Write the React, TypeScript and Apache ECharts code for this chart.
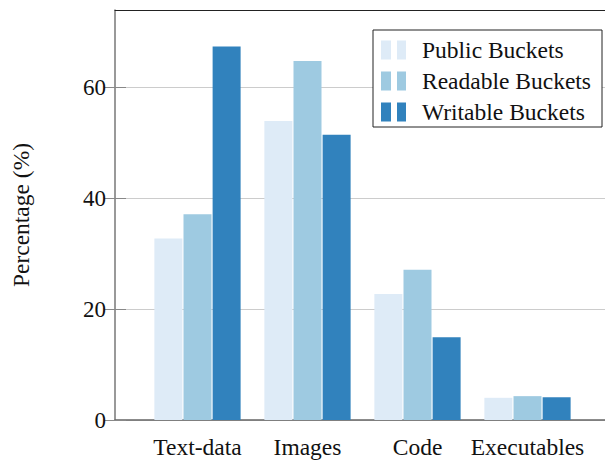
import React, { useEffect, useRef } from "react";
import * as echarts from "echarts";

const categories = ["Text-data", "Images", "Code", "Executables"];
const seriesNames = ["Public Buckets", "Readable Buckets", "Writable Buckets"];
const publicValues = [32.7, 53.9, 22.7, 4.0];
const readableValues = [37.1, 64.7, 27.1, 4.3];
const writableValues = [67.3, 51.4, 14.9, 4.1];
const colors = ["#deebf7", "#9ecae1", "#3182bd"];
const yTicks = [0, 20, 40, 60];

const FONT = "'Liberation Serif', 'DejaVu Serif', serif";
const ICON = "path://M0,0H10V19H0Z M16,0H25V19H16Z";

export default function App() {
  const ref = useRef<HTMLDivElement>(null);
  useEffect(() => {
    if (!ref.current) return;
    const chart = echarts.init(ref.current, undefined, { renderer: "svg" });
    const yMax = 73.9;
    const values = [publicValues, readableValues, writableValues];
    chart.setOption({
      animation: false,
      backgroundColor: "#ffffff",
      textStyle: { fontFamily: FONT },
      grid: [
        { left: 115, top: 10, width: 495, height: 410, outerBoundsMode: "none", containLabel: false },
        { left: 142.5, top: 10, width: 440, height: 410, outerBoundsMode: "none", containLabel: false },
      ],
      xAxis: [
        {
          gridIndex: 0,
          type: "value",
          min: 0,
          max: 1,
          axisLabel: { show: false },
          axisTick: { show: false },
          splitLine: { show: false },
          axisLine: { show: true, onZero: false, lineStyle: { color: "#666", width: 1.5 } },
        },
        {
          gridIndex: 0,
          type: "value",
          position: "top",
          min: 0,
          max: 1,
          axisLabel: { show: false },
          axisTick: { show: false },
          splitLine: { show: false },
          axisLine: { show: true, onZero: false, lineStyle: { color: "#222", width: 1 } },
        },
        {
          gridIndex: 1,
          type: "category",
          data: categories,
          axisLine: { show: false },
          axisTick: { show: false },
          axisLabel: { color: "#111", fontSize: 23.5, fontFamily: FONT, margin: 15, interval: 0 },
        },
      ],
      yAxis: [
        {
          gridIndex: 0,
          type: "value",
          min: 0,
          max: yMax,
          interval: 20,
          name: "Percentage (%)",
          nameLocation: "middle",
          nameGap: 82,
          nameTextStyle: { color: "#111", fontSize: 23.5, fontFamily: FONT },
          axisLine: { show: true, lineStyle: { color: "#777", width: 1.5 } },
          axisTick: { show: true, inside: true, length: 11, customValues: yTicks, lineStyle: { color: "#888" } },
          axisLabel: {
            color: "#111",
            fontSize: 23,
            fontFamily: FONT,
            margin: 9,
            customValues: yTicks,
          },
          splitLine: { show: true, lineStyle: { color: "#cccccc", width: 1 } },
        },
        {
          gridIndex: 0,
          type: "value",
          position: "right",
          min: 0,
          max: yMax,
          interval: 20,
          axisLine: { show: false },
          axisTick: { show: true, inside: true, length: 11, customValues: yTicks, lineStyle: { color: "#888" } },
          axisLabel: { show: false },
          splitLine: { show: false },
        },
        {
          gridIndex: 1,
          type: "value",
          min: 0,
          max: yMax,
          show: false,
          splitLine: { show: false },
        },
      ],
      legend: {
        orient: "vertical",
        left: 373,
        top: 30,
        padding: [8, 11, 3, 8],
        itemGap: 7,
        itemWidth: 25,
        itemHeight: 19,
        borderColor: "#222",
        borderWidth: 1,
        backgroundColor: "#ffffff",
        data: seriesNames.map((n) => ({ name: n, icon: ICON })),
        textStyle: { color: "#111", fontSize: 23.5, fontFamily: FONT, lineHeight: 20, padding: [0, 0, 0, 11] },
      },
      series: seriesNames.map((name, i) => ({
        name,
        type: "bar",
        xAxisIndex: 2,
        yAxisIndex: 2,
        data: values[i],
        barWidth: 28,
        barGap: "4%",
        itemStyle: { color: colors[i] },
      })),
    });
    return () => chart.dispose();
  }, []);
  return <div ref={ref} style={{ width: 605, height: 460, position: "absolute", left: 0, top: 0 }} />;
}
